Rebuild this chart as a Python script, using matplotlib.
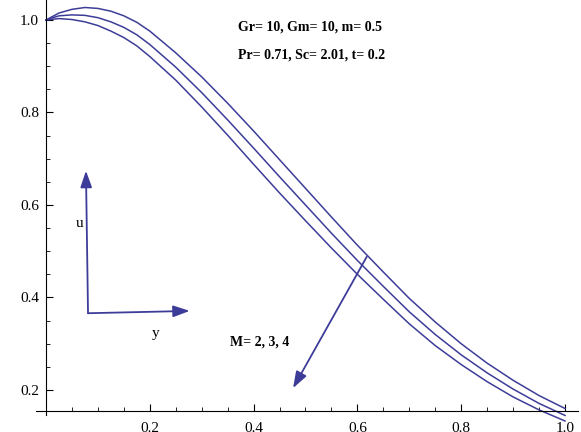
import matplotlib
matplotlib.use('Agg')
import matplotlib.pyplot as plt

# velocity profiles u(y) for M = 2, 3, 4
y_vals = [0.0, 0.025, 0.05, 0.075, 0.1, 0.125, 0.15, 0.175, 0.2, 0.25, 0.3, 0.35, 0.4,
          0.45, 0.5, 0.55, 0.6, 0.65, 0.7, 0.75, 0.8, 0.85, 0.9, 0.95, 1.0]
u_M2 = [1.000, 1.015, 1.023, 1.027, 1.025, 1.019, 1.009, 0.995, 0.976, 0.929, 0.877, 0.820,
        0.760, 0.698, 0.636, 0.574, 0.513, 0.455, 0.398, 0.347, 0.300, 0.258, 0.221, 0.188, 0.160]
u_M3 = [1.000, 1.009, 1.011, 1.010, 1.005, 0.996, 0.984, 0.968, 0.947, 0.898, 0.843, 0.784,
        0.723, 0.661, 0.600, 0.539, 0.480, 0.424, 0.369, 0.320, 0.276, 0.237, 0.202, 0.171, 0.145]
u_M4 = [1.000, 1.003, 1.001, 0.996, 0.988, 0.976, 0.962, 0.944, 0.921, 0.870, 0.812, 0.751,
        0.688, 0.626, 0.566, 0.507, 0.450, 0.396, 0.343, 0.296, 0.255, 0.218, 0.185, 0.157, 0.133]

x_major = [0.2, 0.4, 0.6, 0.8, 1.0]
x_minor = [0.05, 0.1, 0.15, 0.25, 0.3, 0.35, 0.45, 0.5, 0.55, 0.65, 0.7, 0.75, 0.85, 0.9, 0.95]
y_major = [0.2, 0.4, 0.6, 0.8, 1.0]
y_minor = [0.25, 0.3, 0.35, 0.45, 0.5, 0.55, 0.65, 0.7, 0.75, 0.85, 0.9, 0.95]

params_line1 = 'Gr= 10, Gm= 10, m= 0.5'
params_line2 = 'Pr= 0.71, Sc= 2.01, t= 0.2'
m_label = 'M= 2, 3, 4'

col = '#3d3d99'
serif = ['Liberation Serif', 'DejaVu Serif']

fig = plt.figure(figsize=(5.81, 4.32), dpi=100)
ax = fig.add_axes([0, 0, 1, 1])
ax.set_xlim(-0.0886, 1.0308)
ax.set_ylim(0.1092, 1.0432)

for u in (u_M2, u_M3, u_M4):
    ax.plot(y_vals, u, color=col, linewidth=1.1)

# axes crossing like Mathematica
ax.spines['left'].set_position(('data', 0))
ax.spines['bottom'].set_position(('data', 0.1546))
ax.spines['right'].set_visible(False)
ax.spines['top'].set_visible(False)
ax.spines['left'].set_bounds(0.147, 1.0432)
ax.spines['bottom'].set_bounds(-0.02, 1.025)
for s in ('left', 'bottom'):
    ax.spines[s].set_linewidth(0.8)

ax.set_xticks(x_major)
ax.set_xticklabels([f'{v:.1f}' for v in x_major])
ax.set_xticks(x_minor, minor=True)
ax.set_yticks(y_major)
ax.set_yticklabels([f'{v:.1f}' for v in y_major])
ax.set_yticks(y_minor, minor=True)
ax.tick_params(which='major', direction='in', length=5, width=0.8, labelsize=11, pad=5)
ax.tick_params(which='minor', direction='in', length=3, width=0.6)
ax.tick_params(axis='x', which='major', pad=8)
for lab in ax.get_xticklabels() + ax.get_yticklabels():
    lab.set_family(serif)

# parameter labels
ax.text(0.509, 0.985, params_line1, ha='center', va='center', fontsize=10,
        fontweight='bold', family=serif)
ax.text(0.512, 0.924, params_line2, ha='center', va='center', fontsize=10,
        fontweight='bold', family=serif)
ax.text(0.412, 0.304, m_label, ha='center', va='center', fontsize=10,
        fontweight='bold', family=serif)

# direction arrows (u and y axes sketch)
arrow = dict(arrowstyle='-|>,head_length=1.0,head_width=0.35', color=col, lw=1.3,
             shrinkA=0, shrinkB=0)
ax.annotate('', xy=(0.077, 0.674), xytext=(0.081, 0.366), arrowprops=arrow)
ax.annotate('', xy=(0.277, 0.371), xytext=(0.081, 0.366), arrowprops=arrow)
ax.annotate('', xy=(0.476, 0.204), xytext=(0.618, 0.488), arrowprops=arrow)
ax.text(0.064, 0.561, 'u', ha='center', va='center', fontsize=11, family=serif)
ax.text(0.212, 0.323, 'y', ha='center', va='center', fontsize=11, family=serif)

fig.savefig('out.png', dpi=100)
